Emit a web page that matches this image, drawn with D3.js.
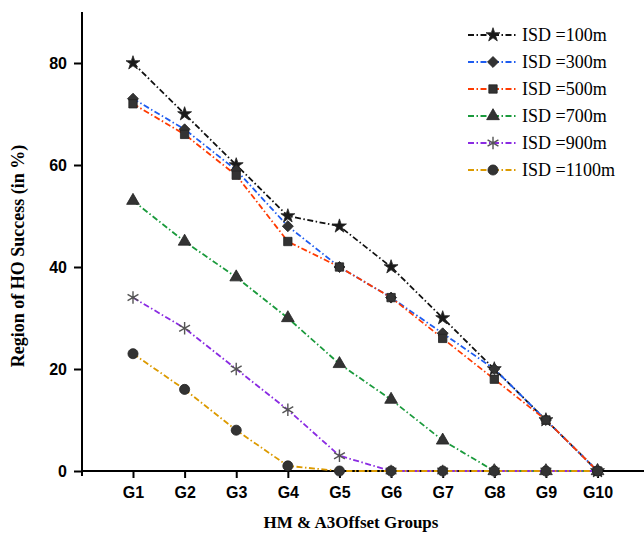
<!DOCTYPE html>
<html>
<head>
<meta charset="utf-8">
<script src="https://cdn.jsdelivr.net/npm/d3@7"></script>
<style>
  body { margin: 0; background: #fff; }
  .tick text { font-family: "Liberation Sans", Arial, sans-serif; font-weight: bold; font-size: 16px; fill: #000; }
</style>
</head>
<body>
<div class="container"></div>
<script>
// chart data
const groups = ["G1", "G2", "G3", "G4", "G5", "G6", "G7", "G8", "G9", "G10"]
const seriesNames = ["ISD =100m", "ISD =300m", "ISD =500m", "ISD =700m", "ISD =900m", "ISD =1100m"]
const isd100 = [80, 70, 60, 50, 48, 40, 30, 20, 10, 0]
const isd300 = [73, 67, 59, 48, 40, 34, 27, 20, 10, 0]
const isd500 = [72, 66, 58, 45, 40, 34, 26, 18, 10, 0]
const isd700 = [53, 45, 38, 30, 21, 14, 6, 0, 0, 0]
const isd900 = [34, 28, 20, 12, 3, 0, 0, 0, 0, 0]
const isd1100 = [23, 16, 8, 1, 0, 0, 0, 0, 0, 0]
const yTicks = [0, 20, 40, 60, 80]

const colors = ["#111111", "#1e5cf0", "#ff3a00", "#1a9a3c", "#8a2be2", "#dc9a00"]
const symbols = [d3.symbolStar, d3.symbolSquare, d3.symbolSquare, d3.symbolTriangle, d3.symbolAsterisk, d3.symbolCircle]
const allSeries = [isd100, isd300, isd500, isd700, isd900, isd1100]

const w = 644
const h = 538

const svg = d3.select(".container")
  .append("svg")
  .attr("width", w)
  .attr("height", h)

const xScale = d3.scaleLinear().domain([0.012, 10.9]).range([82, 644])
const yScale = d3.scaleLinear().domain([0, 90]).range([471, 12])

// axes
const xAxis = d3.axisBottom(xScale)
  .tickValues(d3.range(1, 11))
  .tickFormat(d => groups[d - 1])
  .tickSize(7)
  .tickPadding(9)
  .tickSizeOuter(0)

svg.append("g")
  .attr("transform", "translate(0,471)")
  .call(xAxis)
  .call(g => g.select(".domain").attr("stroke-width", 2).attr("d", "M82,0H644"))
  .call(g => g.selectAll(".tick line").attr("stroke-width", 2))

const yAxis = d3.axisLeft(yScale)
  .tickValues(yTicks)
  .tickSize(8)
  .tickPadding(7)
  .tickSizeOuter(0)

svg.append("g")
  .attr("transform", "translate(82,0)")
  .call(yAxis)
  .call(g => g.select(".domain").attr("stroke-width", 2).attr("d", "M0,12V476"))
  .call(g => g.selectAll(".tick line").attr("stroke-width", 2))

// lines
const line = d3.line()
  .x((d, i) => xScale(i + 1))
  .y(d => yScale(d))

allSeries.forEach((s, k) => {
  svg.append("path")
    .datum(s)
    .attr("d", line)
    .attr("fill", "none")
    .attr("stroke", colors[k])
    .attr("stroke-width", 1.8)
    .attr("stroke-dasharray", "6,2.5,1.5,2.5")
})

function drawMarker(g, k, x, y) {
  const sizes = [60, 60, 70, 70, 110, 80]
  const rot = k === 1 ? 45 : 0
  const m = g.append("path")
    .attr("transform", `translate(${x},${y}) rotate(${rot})`)
    .attr("d", d3.symbol().type(symbols[k]).size(sizes[k])())
  if (k === 4) {
    m.attr("fill", "none").attr("stroke", "#555").attr("stroke-width", 1.4)
  } else {
    m.attr("fill", k === 0 ? "#1a1a1a" : "#333").attr("stroke", "#222").attr("stroke-width", 0.8)
  }
}

allSeries.forEach((s, k) => {
  const g = svg.append("g")
  s.forEach((d, i) => drawMarker(g, k, xScale(i + 1), yScale(d)))
})

// legend
const legend = svg.append("g")
seriesNames.forEach((name, k) => {
  const y = 35 + k * 27
  legend.append("line")
    .attr("x1", 468).attr("x2", 517)
    .attr("y1", y).attr("y2", y)
    .attr("stroke", colors[k])
    .attr("stroke-width", 1.8)
    .attr("stroke-dasharray", "6,2.5,1.5,2.5")
  drawMarker(legend, k, 493, y)
  legend.append("text")
    .attr("x", 522)
    .attr("y", y + 6)
    .attr("font-family", "'Liberation Serif', 'Times New Roman', serif")
    .attr("font-size", 18)
    .text(name)
})

// axis titles
svg.append("text")
  .attr("x", 351)
  .attr("y", 528)
  .attr("text-anchor", "middle")
  .attr("font-family", "'Liberation Serif', 'Times New Roman', serif")
  .attr("font-weight", "bold")
  .attr("font-size", 17)
  .text("HM & A3Offset Groups")

svg.append("text")
  .attr("transform", "translate(24,256) rotate(-90)")
  .attr("text-anchor", "middle")
  .attr("font-family", "'Liberation Serif', 'Times New Roman', serif")
  .attr("font-weight", "bold")
  .attr("font-size", 18)
  .text("Region of HO Success (in %)")
</script>
</body>
</html>
